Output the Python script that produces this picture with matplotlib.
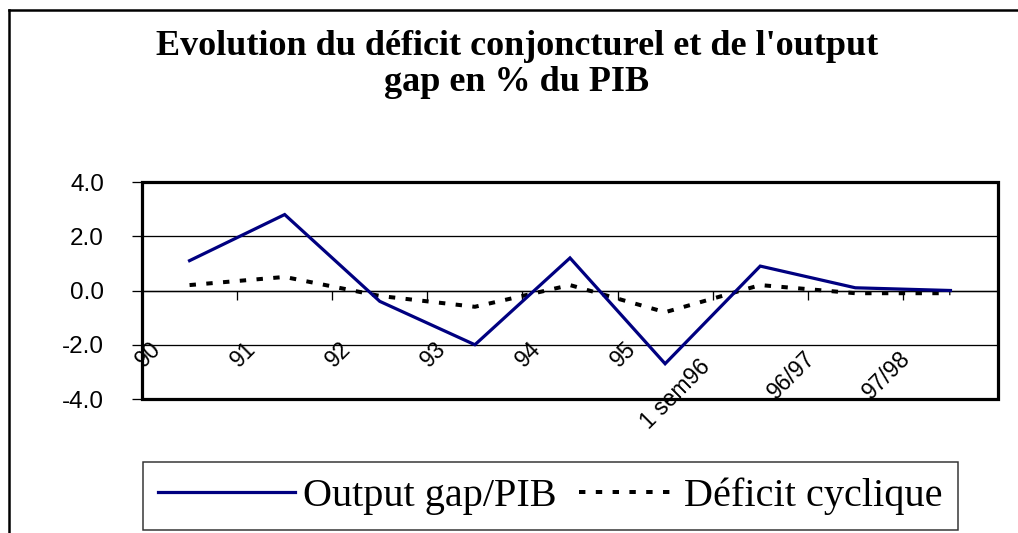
import numpy as np
import matplotlib
matplotlib.use("Agg")
import matplotlib.pyplot as plt
from matplotlib.lines import Line2D
from matplotlib.patches import Rectangle
from matplotlib.legend_handler import HandlerLine2D
from matplotlib.transforms import ScaledTranslation

# ---------------- data ----------------
categories = ["90", "91", "92", "93", "94", "95", "1 sem96", "96/97", "97/98"]
output_gap = [1.1, 2.8, -0.4, -2.0, 1.2, -2.7, 0.9, 0.1, 0.0]
deficit_cyclique = [0.2, 0.5, -0.2, -0.6, 0.2, -0.8, 0.2, -0.1, -0.1]
y_ticks = [-4.0, -2.0, 0.0, 2.0, 4.0]
title = "Evolution du déficit conjoncturel et de l'output\ngap en % du PIB"
series_names = ["Output gap/PIB", "Déficit cyclique"]

W, H, DPI = 1018, 533, 100
fig = plt.figure(figsize=(W / DPI, H / DPI), dpi=DPI)
fig.patch.set_facecolor("white")

def px(v):  # pixels -> points
    return v * 72.0 / DPI

ax = fig.add_axes([142 / W, 1 - 399 / H, 856 / W, 217 / H])
x = np.arange(len(categories))

l1, = ax.plot(x, output_gap, color="#000080", lw=px(3.2), solid_joinstyle="miter", zorder=4)
l2, = ax.plot(x, deficit_cyclique, color="black", lw=px(4), dashes=(1.6, 2.6), zorder=3)

ax.set_xlim(-0.5, len(categories) - 0.5)
ax.set_ylim(-4, 4)

# spines / frame
for s in ["top", "right", "left"]:
    ax.spines[s].set_visible(False)
ax.spines["bottom"].set_position(("data", 0))
ax.spines["bottom"].set_linewidth(px(1.3))
ax.add_patch(Rectangle((0, 0), 1, 1, transform=ax.transAxes, fill=False,
                       lw=px(3.2), edgecolor="black", clip_on=False, zorder=6))

# y axis
ax.set_yticks(y_ticks, [f"{v:.1f}" for v in y_ticks])
ax.tick_params(axis="y", direction="out", length=px(10), width=px(1.3),
               pad=px(28), labelsize=17.5, colors="black")
for lab in ax.get_yticklabels():
    lab.set_fontfamily("Liberation Sans")
ax.yaxis.grid(True, color="black", lw=px(1.3))
ax.set_axisbelow(True)

# x axis: ticks on zero line at category boundaries
ax.set_xticks(x - 0.5, categories)
ax.tick_params(axis="x", direction="out", length=px(9), width=px(1.3),
               pad=0, labelsize=16.5, colors="black")
for lab in ax.get_xticklabels():
    lab.set_fontfamily("Liberation Sans")

fig.canvas.draw()
r = fig.canvas.get_renderer()
for lab in ax.get_xticklabels():
    w = lab.get_window_extent(r).width
    dx = 24 - 0.7 * w
    dyd = 47 + 0.65 * w - 9
    lab.set_rotation(45)
    lab.set_rotation_mode("anchor")
    lab.set_ha("center")
    lab.set_va("center")
    lab.set_transform(lab.get_transform() +
                      ScaledTranslation(dx / DPI, -dyd / DPI, fig.dpi_scale_trans))

# title
fig.suptitle(title, x=517 / W, y=1 - 91 / H, va="baseline", ha="center",
             fontsize=26, fontweight="bold", family="Liberation Serif",
             linespacing=1.12)

# outer frame (top and left)
fig.add_artist(Line2D([9 / W, 1.0], [1 - 10 / H, 1 - 10 / H], transform=fig.transFigure,
                      color="black", lw=px(2.5)))
fig.add_artist(Line2D([9 / W, 9 / W], [1 - 10 / H, 0.0], transform=fig.transFigure,
                      color="black", lw=px(2.5)))

# legend
class ShortRightHandler(HandlerLine2D):
    def __init__(self, frac, **kw):
        super().__init__(**kw)
        self.frac = frac

    def create_artists(self, legend, orig_handle, xdescent, ydescent, width,
                       height, fontsize, trans):
        nw = width * self.frac
        xd = xdescent - (width - nw)
        return super().create_artists(legend, orig_handle, xd, ydescent, nw,
                                      height, fontsize, trans)

leg = fig.legend([l1, l2], series_names, loc="upper left",
                 bbox_to_anchor=(143 / W, 1 - 462 / H), borderaxespad=0,
                 ncol=2, frameon=True, fancybox=False, shadow=False,
                 prop={"family": "Liberation Serif", "size": 29},
                 handlelength=3.4, handletextpad=0.2, columnspacing=-0.45,
                 borderpad=0.38,
                 handler_map={l2: ShortRightHandler(0.71)})
leg.get_frame().set_edgecolor("black")
leg.get_frame().set_linewidth(px(1.5))

fig.savefig("out.png", dpi=DPI, facecolor="white")
